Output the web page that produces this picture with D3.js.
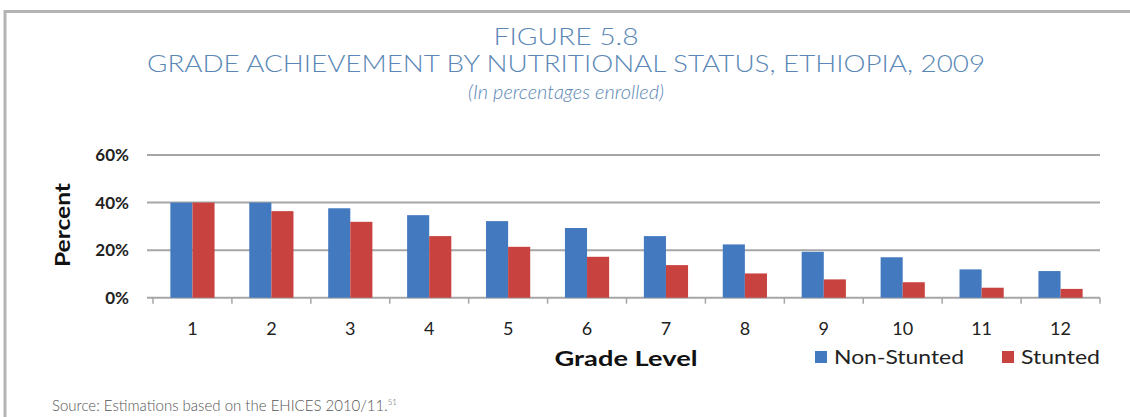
<!DOCTYPE html>
<html>
<head>
<meta charset="utf-8">
<script src="https://cdn.jsdelivr.net/npm/d3@7"></script>
<style>
  body { margin: 0; background: #fff; }
  svg { display: block; }
</style>
</head>
<body>
<script>
// data
var grades = ["1", "2", "3", "4", "5", "6", "7", "8", "9", "10", "11", "12"];
var nonStunted = [40, 40, 37.6, 34.7, 32.2, 29.3, 25.9, 22.4, 19.3, 17, 11.9, 11.2];
var stunted = [40, 36.4, 31.9, 25.9, 21.4, 17.2, 13.7, 10.2, 7.7, 6.5, 4.2, 3.7];
var seriesNames = ["Non-Stunted", "Stunted"];
var yTicks = [0, 20, 40, 60];

var W = 1130, H = 417;
var titleColor = "#5a87b6";
var colors = ["#4379bf", "#c8433f"];

var svg = d3.select("body").append("svg")
  .attr("width", W)
  .attr("height", H);

// frame
svg.append("rect")
  .attr("x", 5).attr("y", 11.5)
  .attr("width", W + 10).attr("height", H)
  .attr("fill", "none")
  .attr("stroke", "#b4b4b4")
  .attr("stroke-width", 3);

// titles
svg.append("text")
  .attr("x", 566).attr("y", 45)
  .attr("text-anchor", "middle")
  .attr("fill", titleColor)
  .style("font", "300 23px Lato")
  .attr("textLength", 145)
  .attr("lengthAdjust", "spacingAndGlyphs")
  .text("FIGURE 5.8");

svg.append("text")
  .attr("x", 566).attr("y", 72)
  .attr("text-anchor", "middle")
  .attr("fill", titleColor)
  .style("font", "300 23px Lato")
  .attr("textLength", 838)
  .attr("lengthAdjust", "spacingAndGlyphs")
  .text("GRADE ACHIEVEMENT BY NUTRITIONAL STATUS, ETHIOPIA, 2009");

svg.append("text")
  .attr("x", 566).attr("y", 99)
  .attr("text-anchor", "middle")
  .attr("fill", titleColor)
  .style("font", "italic 300 20px Lato")
  .attr("textLength", 196)
  .attr("lengthAdjust", "spacingAndGlyphs")
  .text("(In percentages enrolled)");

// scales
var x = d3.scaleBand()
  .domain(grades)
  .range([153, 1100])
  .paddingInner(0.44)
  .paddingOuter(0.22);

var xSub = d3.scaleBand()
  .domain(seriesNames)
  .range([0, x.bandwidth()]);

var y = d3.scaleLinear()
  .domain([0, 60])
  .range([297.7, 155]);

var step = x.step();

// gridlines
svg.append("g")
  .selectAll("line")
  .data(yTicks)
  .enter().append("line")
  .attr("x1", 147).attr("x2", 1100)
  .attr("y1", function(d) { return y(d); })
  .attr("y2", function(d) { return y(d); })
  .attr("stroke", "#a6a6a6")
  .attr("stroke-width", 2);

// y labels
svg.append("g")
  .selectAll("text")
  .data(yTicks)
  .enter().append("text")
  .attr("x", 129)
  .attr("y", function(d) { return y(d) + 6; })
  .attr("text-anchor", "end")
  .attr("fill", "#222")
  .style("font", "bold 17px Lato")
  .text(function(d) { return d + "%"; });

svg.append("text")
  .attr("transform", "translate(70,225) rotate(-90)")
  .attr("text-anchor", "middle")
  .attr("fill", "#111")
  .style("font", "bold 20px Lato")
  .attr("textLength", 84)
  .attr("lengthAdjust", "spacingAndGlyphs")
  .text("Percent");

// bars
var series = [nonStunted, stunted];
var groups = svg.append("g")
  .selectAll("g")
  .data(grades)
  .enter().append("g")
  .attr("transform", function(d) { return "translate(" + x(d) + ",0)"; });

groups.selectAll("rect")
  .data(function(d, i) {
    return seriesNames.map(function(s, j) { return { key: s, value: series[j][i], c: colors[j] }; });
  })
  .enter().append("rect")
  .attr("x", function(d) { return xSub(d.key); })
  .attr("width", xSub.bandwidth())
  .attr("y", function(d) { return y(d.value); })
  .attr("height", function(d) { return y(0) - y(d.value); })
  .attr("fill", function(d) { return d.c; });

// x axis tick marks between categories
var bounds = grades.map(function(g) { return x(g) - step * 0.22; });
bounds.push(bounds[bounds.length - 1] + step);
svg.append("g")
  .selectAll("line")
  .data(bounds)
  .enter().append("line")
  .attr("x1", function(d) { return d; })
  .attr("x2", function(d) { return d; })
  .attr("y1", y(0)).attr("y2", y(0) + 6)
  .attr("stroke", "#a6a6a6")
  .attr("stroke-width", 1.5);

svg.append("g")
  .selectAll("text")
  .data(grades)
  .enter().append("text")
  .attr("x", function(d) { return x(d) + x.bandwidth() / 2; })
  .attr("y", 335)
  .attr("text-anchor", "middle")
  .attr("fill", "#222")
  .style("font", "18px Lato")
  .text(function(d) { return d; });

svg.append("text")
  .attr("x", 626).attr("y", 366)
  .attr("text-anchor", "middle")
  .attr("fill", "#111")
  .style("font", "bold 20px Lato")
  .attr("textLength", 143)
  .attr("lengthAdjust", "spacingAndGlyphs")
  .text("Grade Level");

// legend
var legX = [815, 1002];
var legLen = [130, 79];
var leg = svg.append("g")
  .selectAll("g")
  .data(seriesNames)
  .enter().append("g")
  .attr("transform", function(d, i) { return "translate(" + legX[i] + ",0)"; });

leg.append("rect")
  .attr("x", 0).attr("y", 351)
  .attr("width", 12).attr("height", 12)
  .attr("fill", function(d, i) { return colors[i]; });

leg.append("text")
  .attr("x", 19).attr("y", 364)
  .attr("fill", "#222")
  .style("font", "19px Lato")
  .attr("textLength", function(d, i) { return legLen[i]; })
  .attr("lengthAdjust", "spacingAndGlyphs")
  .text(function(d) { return d; });

// source
var src = svg.append("text")
  .attr("x", 52).attr("y", 411)
  .attr("fill", "#555")
  .style("font", "300 15px Lato");
src.append("tspan").text("Source: Estimations based on the EHICES 2010/11.");
src.append("tspan")
  .attr("dy", -6)
  .style("font-size", "8px")
  .text("51");
</script>
</body>
</html>
